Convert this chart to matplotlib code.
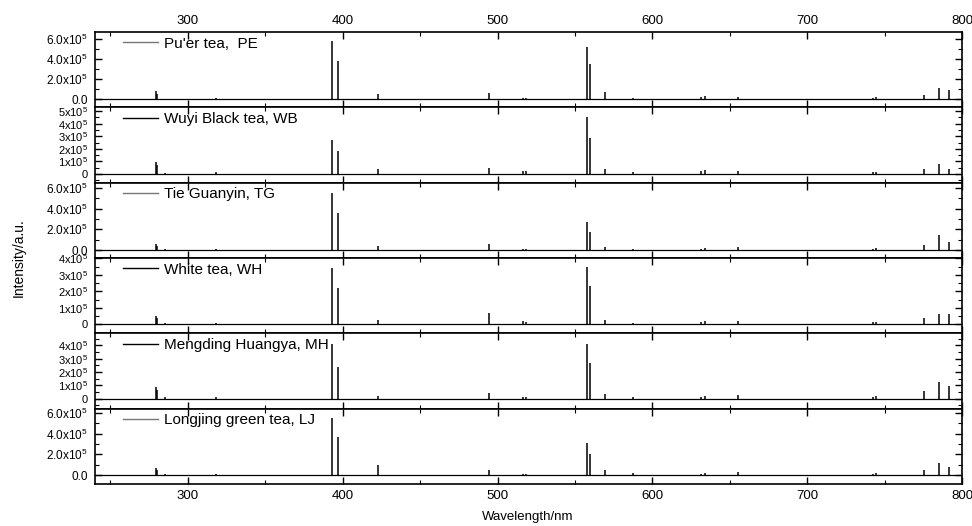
import matplotlib
matplotlib.use('Agg')
import matplotlib.pyplot as plt
from matplotlib.ticker import MultipleLocator, FixedLocator, FixedFormatter

plt.rcParams['font.family'] = ['Liberation Sans', 'DejaVu Sans']
plt.rcParams['mathtext.fontset'] = 'custom'
plt.rcParams['mathtext.rm'] = 'Liberation Sans'
plt.rcParams['mathtext.default'] = 'regular'

# --- datos (intensidad en unidades de 1e5) ---
wavelength_nm = [279.6, 280.3, 285.2, 317.9, 393.4, 396.8, 422.7, 494.8, 516.7, 518.4,
                 557.9, 559.6, 569.6, 587.5, 631.4, 634.0, 655.6, 742.7, 744.6, 775.7,
                 785.2, 791.8]

samples = ["Pu'er tea,  PE", "Wuyi Black tea, WB", "Tie Guanyin, TG",
           "White tea, WH", "Mengding Huangya, MH", "Longjing green tea, LJ"]

pe = [0.82, 0.55, 0.08, 0.10, 5.78, 3.80, 0.55, 0.65, 0.10, 0.10, 5.26, 3.56, 0.75, 0.10,
      0.27, 0.35, 0.25, 0.15, 0.20, 0.44, 1.09, 0.95]
wb = [0.98, 0.70, 0.10, 0.15, 2.74, 1.79, 0.43, 0.51, 0.25, 0.22, 4.53, 2.90, 0.38, 0.12,
      0.20, 0.33, 0.25, 0.15, 0.18, 0.38, 0.81, 0.41]
tg = [0.60, 0.40, 0.08, 0.10, 5.50, 3.55, 0.39, 0.55, 0.15, 0.10, 2.73, 1.74, 0.30, 0.10,
      0.15, 0.20, 0.30, 0.15, 0.20, 0.45, 1.42, 0.77]
wh = [0.54, 0.40, 0.06, 0.08, 3.41, 2.23, 0.24, 0.68, 0.18, 0.15, 3.47, 2.34, 0.30, 0.08,
      0.12, 0.18, 0.18, 0.12, 0.16, 0.42, 0.62, 0.64]
mh = [0.90, 0.65, 0.10, 0.12, 4.10, 2.35, 0.23, 0.40, 0.15, 0.12, 4.10, 2.65, 0.35, 0.10,
      0.12, 0.20, 0.25, 0.15, 0.20, 0.57, 1.25, 0.95]
lj = [0.70, 0.50, 0.08, 0.10, 5.46, 3.65, 0.95, 0.48, 0.15, 0.12, 3.10, 2.07, 0.48, 0.25,
      0.12, 0.20, 0.27, 0.15, 0.20, 0.48, 1.17, 0.80]
spectra = [pe, wb, tg, wh, mh, lj]

# rango y ticks de cada panel (unidades de 1e5)
ylims = [(-0.8, 6.7), (-0.7, 5.3), (-0.77, 6.5), (-0.54, 4.02), (-0.75, 4.9), (-0.86, 6.4)]
yticks_a = [0, 2, 4, 6]
ylabels_a = ['0.0', r'2.0x10$^5$', r'4.0x10$^5$', r'6.0x10$^5$']
yticks_b = [0, 1, 2, 3, 4, 5]
ylabels_b = ['0', r'1x10$^5$', r'2x10$^5$', r'3x10$^5$', r'4x10$^5$', r'5x10$^5$']
tick_style = ['a', 'b', 'a', 'b', 'b', 'a']
legend_colors = ['#777777', 'black', '#777777', 'black', 'black', '#777777']

fig, axes = plt.subplots(6, 1, figsize=(9.72, 5.26), dpi=100, sharex=True)
fig.subplots_adjust(left=0.0977, right=0.9897, top=0.939, bottom=0.0798, hspace=0)

for i, ax in enumerate(axes):
    ax.axhline(0, color='black', lw=0.9, zorder=2)
    ax.vlines(wavelength_nm, 0, spectra[i], color='black', lw=1.1, zorder=3)
    ax.plot([], [], color=legend_colors[i], lw=1, label=samples[i])
    ax.legend(loc='upper left', bbox_to_anchor=(0.018, 1.1), frameon=False,
              fontsize=11, handlelength=2.3, handletextpad=0.4, borderpad=0.3)

    ax.set_xlim(240, 800)
    ax.set_ylim(*ylims[i])
    if tick_style[i] == 'a':
        ax.yaxis.set_major_locator(FixedLocator(yticks_a))
        ax.yaxis.set_major_formatter(FixedFormatter(ylabels_a))
        ax.yaxis.set_minor_locator(MultipleLocator(1))
        ysize = 8.5
    else:
        ax.yaxis.set_major_locator(FixedLocator(yticks_b))
        ax.yaxis.set_major_formatter(FixedFormatter(ylabels_b))
        ax.yaxis.set_minor_locator(MultipleLocator(0.5))
        ysize = 8
    ax.xaxis.set_major_locator(MultipleLocator(100))
    ax.xaxis.set_minor_locator(MultipleLocator(50))

    ax.tick_params(which='both', direction='in', top=True, bottom=True, left=True, right=True)
    ax.tick_params(which='major', length=5, width=1)
    ax.tick_params(which='minor', length=3, width=0.8)
    ax.tick_params(axis='y', labelsize=ysize, pad=5)
    ax.tick_params(axis='x', labelsize=9.5, pad=4, labeltop=(i == 0), labelbottom=(i == 5))
    for s in ax.spines.values():
        s.set_linewidth(1.2)

fig.text(0.543, 0.018, 'Wavelength/nm', ha='center', va='center', fontsize=9.5)
fig.text(0.019, 0.51, 'Intensity/a.u.', ha='center', va='center', rotation=90, fontsize=10)

plt.savefig('out.png', dpi=100)
plt.close()
